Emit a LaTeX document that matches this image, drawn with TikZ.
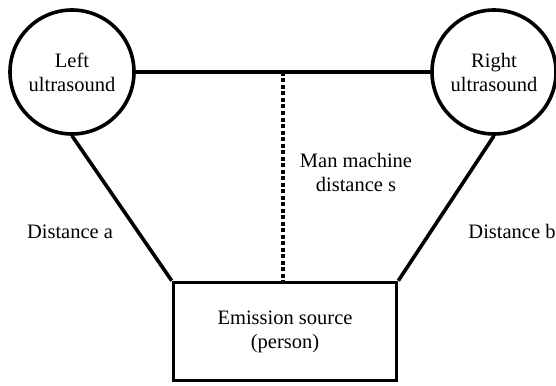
\documentclass[tikz,border=0pt]{standalone}
\usepackage{fontspec}
\setmainfont{Liberation Serif}
\begin{document}
\begin{tikzpicture}[x=1pt,y=1pt,
  every node/.style={font=\fontsize{20.5}{24}\selectfont},
  us/.style={circle,draw,line width=3.6pt,minimum size=124pt,inner sep=0pt,align=center},
  src/.style={rectangle,draw,line width=3.6pt,minimum width=223pt,minimum height=98pt,inner sep=0pt,align=center},
  conn/.style={line width=3.6pt},
  dots/.style={line width=3.2pt,dash pattern=on 4pt off 2.5pt},
  lbl/.style={align=center,inner sep=0pt}]
\useasboundingbox (0,0) rectangle (556,-385);
\node[us] (L) at (72,-72) {Left\\ultrasound};
\node[us] (R) at (494,-72) {Right\\ultrasound};
\node[src] (S) at (285,-331.5) {Emission source\\(person)};
\draw[conn] (L.east) -- (R.west);
\coordinate (dtop) at (283,-72);
\draw[dots] (dtop) -- (dtop |- S.north);
\draw[conn] (L.south) -- (S.north west);
\draw[conn] (R.south) -- (S.north east);
\node[lbl] (mm) at (356,-172) {Man machine\\distance s};
\node[lbl,anchor=base] (da) at (70,-238) {Distance a};
\node[lbl,anchor=base] (db) at (512,-238) {Distance b};
\end{tikzpicture}
\end{document}
